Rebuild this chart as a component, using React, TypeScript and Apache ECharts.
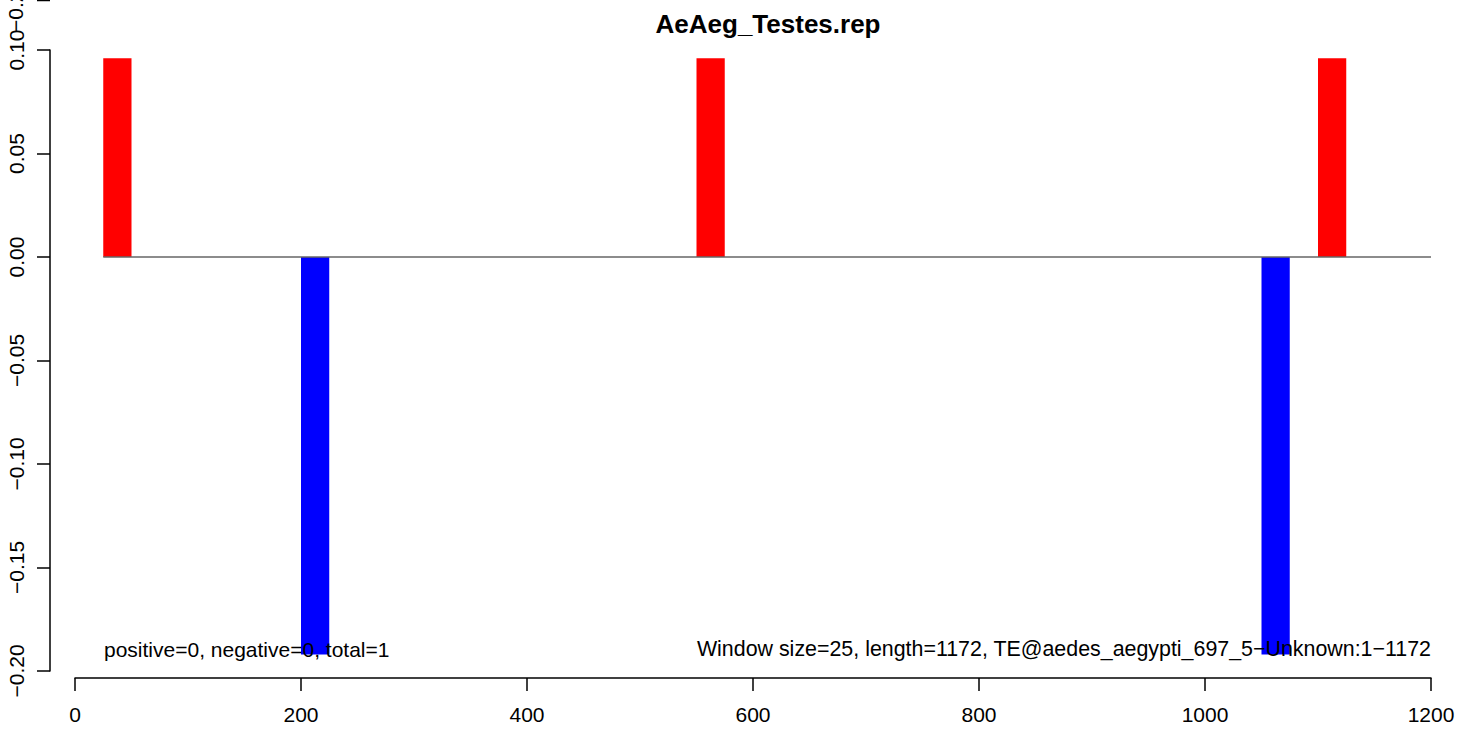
import React, { useEffect, useRef } from "react";
import * as echarts from "echarts";

const titleText = "AeAeg_Testes.rep";
const xTicks = [0, 200, 400, 600, 800, 1000, 1200];
const yTicks = [-0.2, -0.15, -0.1, -0.05, 0, 0.05, 0.1];

// positive (red) windows
const posStarts = [25, 550, 1100];
const posEnds = [50, 575, 1125];
const posValues = [0.096, 0.096, 0.096];
// negative (blue) windows
const negStarts = [200, 1050];
const negEnds = [225, 1075];
const negValues = [-0.192, -0.192];

const zeroLineX = [25, 1200];

const leftNote = "positive=0, negative=0, total=1";
const rightNote = "Window size=25, length=1172, TE@aedes_aegypti_697_5\u2212Unknown:1\u22121172";
const clippedLabel = "\u22120.20";

const FONT = "'Liberation Sans', Arial, Helvetica, sans-serif";

function fmtY(v: number): string {
  const s = v.toFixed(2);
  return s.replace("-", "\u2212");
}

export default function App() {
  const ref = useRef<HTMLDivElement>(null);
  useEffect(() => {
    if (!ref.current) return;
    const chart = echarts.init(ref.current, undefined, { renderer: "svg" });
    const posData = posStarts.map((s, i) => [s, posEnds[i], posValues[i]]);
    const negData = negStarts.map((s, i) => [s, negEnds[i], negValues[i]]);
    const renderBar = (color: string) => (params: any, api: any) => {
      const s = api.value(0);
      const e = api.value(1);
      const v = api.value(2);
      const p0 = api.coord([s, 0]);
      const p1 = api.coord([e, v]);
      return {
        type: "rect",
        shape: {
          x: p0[0],
          y: Math.min(p0[1], p1[1]),
          width: p1[0] - p0[0],
          height: Math.abs(p1[1] - p0[1]),
        },
        style: { fill: color },
      };
    };
    chart.setOption({
      animation: false,
      backgroundColor: "#ffffff",
      grid: { left: 75, right: 29, top: 50, bottom: 59, containLabel: false },
      xAxis: {
        type: "value",
        min: xTicks[0],
        max: xTicks[xTicks.length - 1],
        interval: 200,
        offset: 7,
        axisLine: { show: true, onZero: false, lineStyle: { color: "#000", width: 1.5 } },
        axisTick: { show: true, length: 13, lineStyle: { color: "#000", width: 1.5 } },
        axisLabel: {
          fontSize: 21,
          color: "#000",
          fontFamily: FONT,
          margin: 26,
          formatter: (v: number) => String(v),
        },
        splitLine: { show: false },
      },
      yAxis: {
        type: "value",
        min: yTicks[0],
        max: yTicks[yTicks.length - 1],
        interval: 0.05,
        offset: 25,
        axisLine: { show: true, onZero: false, lineStyle: { color: "#000", width: 1.5 } },
        axisTick: { show: true, length: 13, lineStyle: { color: "#000", width: 1.5 } },
        axisLabel: {
          fontSize: 21,
          color: "#000",
          fontFamily: FONT,
          rotate: 90,
          margin: 23,
          formatter: (v: number) => fmtY(v),
        },
        splitLine: { show: false },
      },
      series: [
        {
          type: "custom",
          renderItem: renderBar("#ff0000"),
          encode: { x: [0, 1], y: 2 },
          data: posData,
          z: 2,
        },
        {
          type: "custom",
          renderItem: renderBar("#0000ff"),
          encode: { x: [0, 1], y: 2 },
          data: negData,
          z: 2,
        },
        {
          type: "line",
          data: [
            [zeroLineX[0], 0],
            [zeroLineX[1], 0],
          ],
          symbol: "none",
          lineStyle: { color: "#666", width: 1.3 },
          z: 3,
        },
      ],
      graphic: [
        {
          type: "text",
          x: 768,
          y: 24,
          style: {
            text: titleText,
            font: `bold 26px ${FONT}`,
            fill: "#000",
            textAlign: "center",
            textVerticalAlign: "middle",
          },
        },
        {
          type: "text",
          x: 104,
          y: 649,
          z: 10,
          style: {
            text: leftNote,
            font: `21px ${FONT}`,
            fill: "#000",
            textAlign: "left",
            textVerticalAlign: "middle",
          },
        },
        {
          type: "text",
          x: 1431,
          y: 649,
          z: 10,
          style: {
            text: rightNote,
            font: `21.4px ${FONT}`,
            fill: "#000",
            textAlign: "right",
            textVerticalAlign: "middle",
          },
        },
        {
          type: "text",
          x: 15,
          y: 32,
          rotation: Math.PI / 2,
          style: {
            text: clippedLabel,
            font: `21px ${FONT}`,
            fill: "#000",
            textAlign: "left",
            textVerticalAlign: "middle",
          },
        },
        {
          type: "line",
          shape: { x1: 37, y1: 0.5, x2: 50, y2: 0.5 },
          style: { stroke: "#000", lineWidth: 1.5 },
        },
      ],
    });
    return () => chart.dispose();
  }, []);
  return (
    <div
      ref={ref}
      style={{ position: "fixed", left: 0, top: 0, width: 1460, height: 730, background: "#fff" }}
    />
  );
}
